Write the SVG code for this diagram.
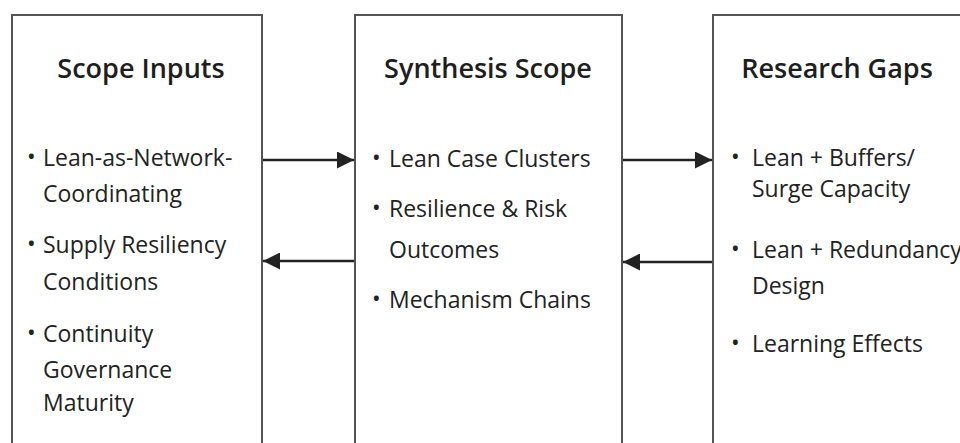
<svg xmlns="http://www.w3.org/2000/svg" width="960" height="443" viewBox="0 0 960 443">
  <style>
    .box { fill: #ffffff; stroke: #555555; stroke-width: 2; }
    .title { font-family: "Open Sans", "Noto Sans", sans-serif; font-size: 27px; font-weight: 600; fill: #1e1e1e; text-anchor: middle; }
    .item { font-family: "Open Sans", "Noto Sans", sans-serif; font-size: 23px; fill: #222222; }
    .dot { font-family: "Open Sans", "Noto Sans", sans-serif; font-size: 23px; fill: #222222; }
    .link { stroke: #222222; stroke-width: 2.5; fill: none; }
  </style>
  <defs>
    <marker id="arrow" viewBox="0 0 10 10" refX="10" refY="5" markerUnits="userSpaceOnUse" markerWidth="18" markerHeight="17" orient="auto">
      <path d="M0,0 L10,5 L0,10 z" fill="#222222"/>
    </marker>
  </defs>

  <rect width="960" height="443" fill="#ffffff"/>

  <g id="scope-inputs">
    <rect class="box" x="12" y="15" width="250" height="440"/>
    <text class="title" x="141" y="78">Scope Inputs</text>
    <text class="dot" x="27" y="165">•</text>
    <text class="item" x="43" y="166">Lean-as-Network-</text>
    <text class="item" x="43" y="202">Coordinating</text>
    <text class="dot" x="27" y="252">•</text>
    <text class="item" x="43" y="253">Supply Resiliency</text>
    <text class="item" x="43" y="290">Conditions</text>
    <text class="dot" x="27" y="341">•</text>
    <text class="item" x="43" y="342">Continuity</text>
    <text class="item" x="43" y="378">Governance</text>
    <text class="item" x="43" y="411">Maturity</text>
  </g>

  <g id="synthesis-scope">
    <rect class="box" x="355" y="15" width="267" height="440"/>
    <text class="title" x="488" y="78">Synthesis Scope</text>
    <text class="dot" x="372" y="166">•</text>
    <text class="item" x="389" y="167">Lean Case Clusters</text>
    <text class="dot" x="372" y="216">•</text>
    <text class="item" x="389" y="217">Resilience &amp; Risk</text>
    <text class="item" x="389" y="258">Outcomes</text>
    <text class="dot" x="372" y="307">•</text>
    <text class="item" x="389" y="308">Mechanism Chains</text>
  </g>

  <g id="research-gaps">
    <rect class="box" x="713" y="15" width="260" height="440"/>
    <text class="title" x="837" y="78">Research Gaps</text>
    <text class="dot" x="731" y="165">•</text>
    <text class="item" x="752" y="166">Lean + Buffers/</text>
    <text class="item" x="752" y="197">Surge Capacity</text>
    <text class="dot" x="731" y="257">•</text>
    <text class="item" x="752" y="258">Lean + Redundancy</text>
    <text class="item" x="752" y="294">Design</text>
    <text class="dot" x="731" y="351">•</text>
    <text class="item" x="752" y="352">Learning Effects</text>
  </g>

  <g id="connectors">
    <line class="link" x1="263" y1="160" x2="354" y2="160" marker-end="url(#arrow)"/>
    <line class="link" x1="623" y1="160" x2="712" y2="160" marker-end="url(#arrow)"/>
    <line class="link" x1="354" y1="261" x2="263" y2="261" marker-end="url(#arrow)"/>
    <line class="link" x1="712" y1="262" x2="623" y2="262" marker-end="url(#arrow)"/>
  </g>
</svg>
